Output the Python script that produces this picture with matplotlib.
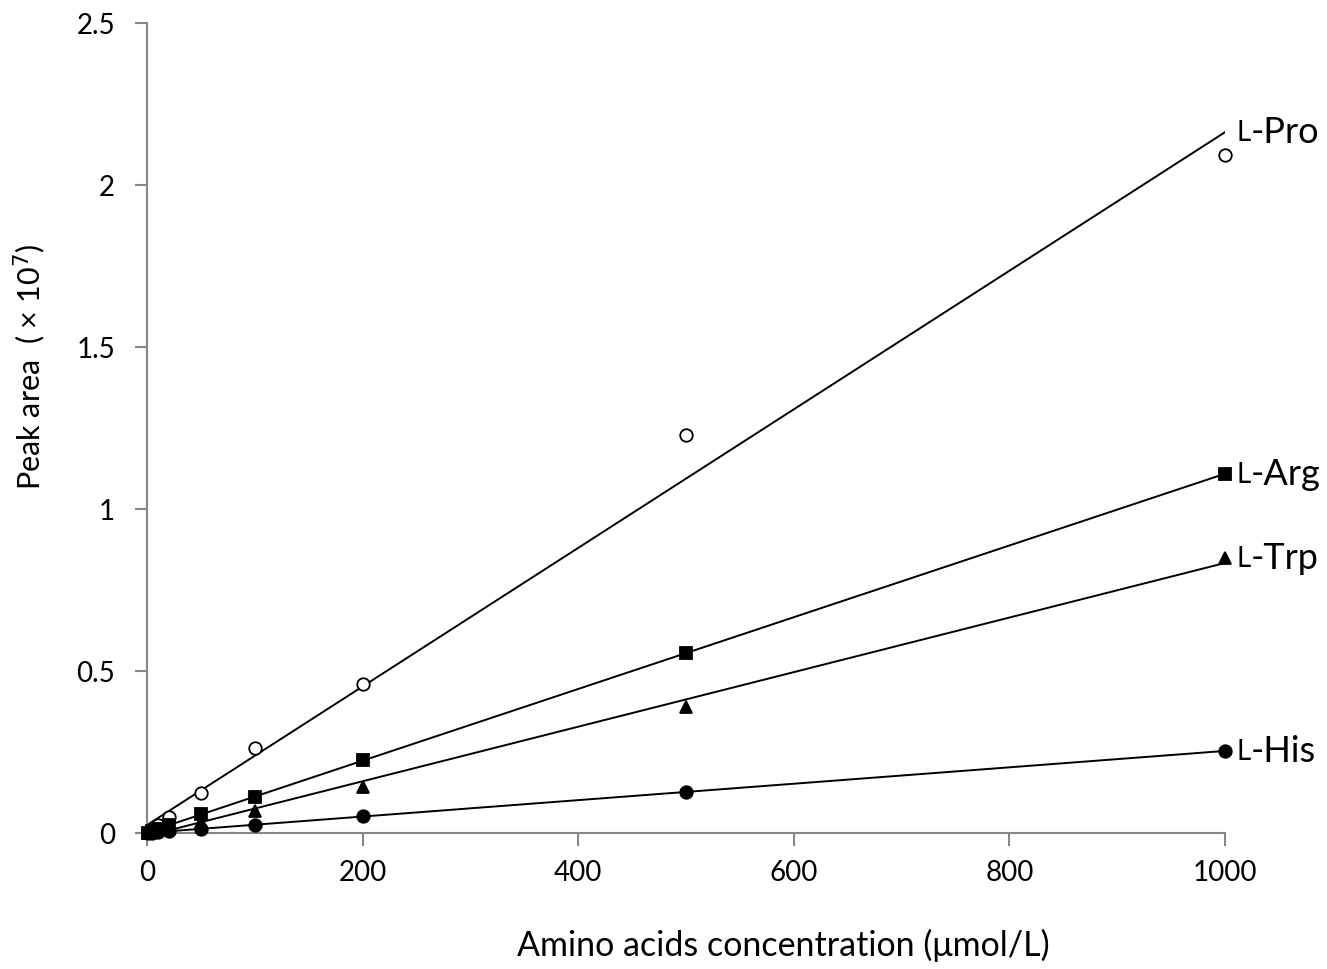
import numpy as np
import matplotlib
matplotlib.use("Agg")
import matplotlib.pyplot as plt

plt.rcParams['font.family'] = ['Lato', 'DejaVu Sans']

# concentrations (umol/L)
conc = [1, 5, 10, 20, 50, 100, 200, 500, 1000]

# peak areas (x 10^7)
pro = [0.002, 0.011, 0.024, 0.049, 0.125, 0.262, 0.460, 1.228, 2.093]
arg = [0.001, 0.006, 0.012, 0.024, 0.059, 0.112, 0.225, 0.556, 1.108]
trp = [0.001, 0.004, 0.008, 0.014, 0.034, 0.068, 0.142, 0.389, 0.849]
his = [0.000, 0.001, 0.003, 0.005, 0.013, 0.025, 0.052, 0.127, 0.253]

names = ['-Pro', '-Arg', '-Trp', '-His']
series = [pro, arg, trp, his]
markers = ['o', 's', '^', 'o']
faces = ['white', 'black', 'black', 'black']

xticks = [0, 200, 400, 600, 800, 1000]
yticks = [0, 0.5, 1, 1.5, 2, 2.5]
ytick_labels = ['0', '0.5', '1', '1.5', '2', '2.5']

fig = plt.figure(figsize=(13.27, 9.70), dpi=100)
ax = fig.add_axes([147 / 1327, 1 - 834 / 970, (1225 - 147) / 1327, (834 - 24) / 970])

xs = np.array(conc, dtype=float)
for vals, m, fc, name in zip(series, markers, faces, names):
    ys = np.array(vals)
    # linear trend line
    k, b = np.polyfit(xs, ys, 1)
    ax.plot([0, 1000], [b, k * 1000 + b], color='black', lw=1.4, zorder=2)
    ax.plot(xs, ys, linestyle='none', marker=m, markersize=9,
            markerfacecolor=fc, markeredgecolor='black', markeredgewidth=1.3,
            zorder=3, clip_on=False)
    # label with small-cap "L"
    yl = max(k * 1000 + b, vals[-1])
    t = ax.annotate('L', xy=(1000, yl), xytext=(8, 0), textcoords='offset points',
                    fontsize=20, va='center', ha='left', annotation_clip=False)
    ax.annotate(name, xy=(1, 0), xycoords=t, fontsize=26, va='bottom', ha='left',
                xytext=(0, -2), textcoords='offset points')

ax.set_xlim(0, 1000)
ax.set_ylim(0, 2.5)
ax.set_xticks(xticks)
ax.set_yticks(yticks)
ax.set_yticklabels(ytick_labels)

for s in ['top', 'right']:
    ax.spines[s].set_visible(False)
for s in ['left', 'bottom']:
    ax.spines[s].set_color('#868686')
    ax.spines[s].set_linewidth(1.5)
ax.tick_params(axis='both', direction='out', length=9, width=1.5, color='#868686',
               labelsize=20, labelcolor='black')
ax.tick_params(axis='x', pad=10)
ax.tick_params(axis='y', pad=14)

fig.text(783 / 1327, 1 - 945 / 970, 'Amino acids concentration (μmol/L)',
         fontsize=24.5, ha='center', va='center')
fig.text(30 / 1327, 1 - 367 / 970, 'Peak area  ( × 10$^{7}$)',
         fontsize=22, ha='center', va='center', rotation=90)

fig.savefig('out.png', dpi=100)
